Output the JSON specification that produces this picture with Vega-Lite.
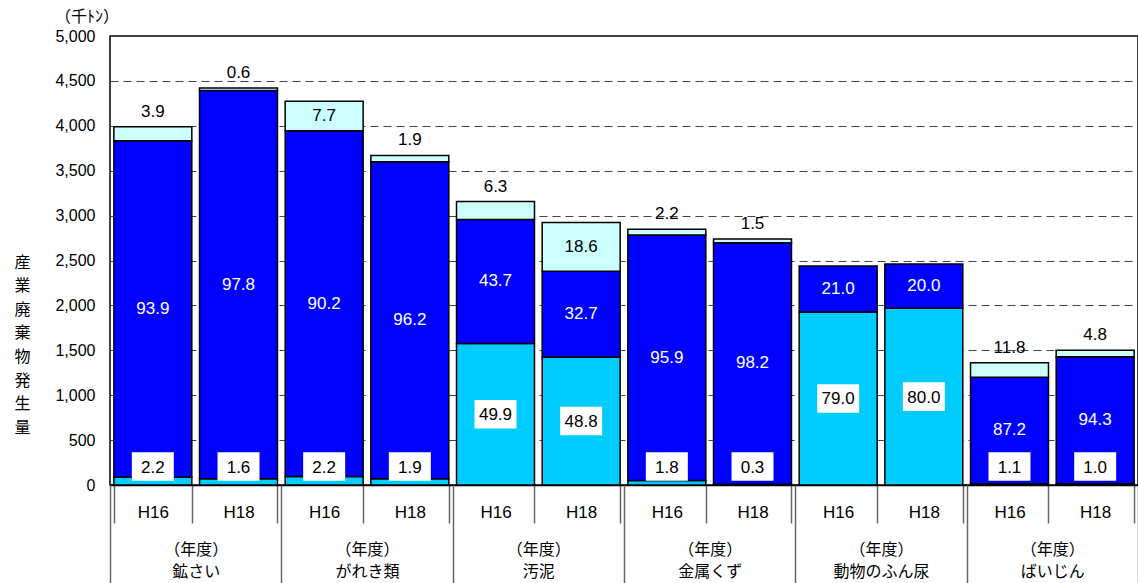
{
  "$schema": "https://vega.github.io/schema/vega-lite/v6.json",
  "width": 1028,
  "height": 449,
  "autosize": {"type": "none"},
  "padding": {"left": 110, "top": 36, "right": 0, "bottom": 98},
  "config": {
    "font": "Liberation Sans",
    "view": {"stroke": "black", "strokeWidth": 1.5},
    "axis": {"labelFont": "Liberation Sans", "labelColor": "black", "labelFontSize": 16, "titleColor": "black"}
  },
  "title": {"text": "（千ﾄﾝ）", "anchor": "start", "frame": "group", "dx": -55, "offset": 3, "fontSize": 16, "font": "Noto Sans CJK JP", "fontWeight": "normal", "color": "black"},
  "data": {
    "values": [
      {"cat": "鉱さい", "year": "H16", "seg": "bottom", "pct": 2.2, "amount": 87.8},
      {"cat": "鉱さい", "year": "H16", "seg": "middle", "pct": 93.9, "amount": 3746.6},
      {"cat": "鉱さい", "year": "H16", "seg": "top", "pct": 3.9, "amount": 155.6},
      {"cat": "鉱さい", "year": "H18", "seg": "bottom", "pct": 1.6, "amount": 70.7},
      {"cat": "鉱さい", "year": "H18", "seg": "middle", "pct": 97.8, "amount": 4322.8},
      {"cat": "鉱さい", "year": "H18", "seg": "top", "pct": 0.6, "amount": 26.5},
      {"cat": "がれき類", "year": "H16", "seg": "bottom", "pct": 2.2, "amount": 93.9},
      {"cat": "がれき類", "year": "H16", "seg": "middle", "pct": 90.2, "amount": 3851.5},
      {"cat": "がれき類", "year": "H16", "seg": "top", "pct": 7.7, "amount": 328.8},
      {"cat": "がれき類", "year": "H18", "seg": "bottom", "pct": 1.9, "amount": 69.7},
      {"cat": "がれき類", "year": "H18", "seg": "middle", "pct": 96.2, "amount": 3530.5},
      {"cat": "がれき類", "year": "H18", "seg": "top", "pct": 1.9, "amount": 69.7},
      {"cat": "汚泥", "year": "H16", "seg": "bottom", "pct": 49.9, "amount": 1576.8},
      {"cat": "汚泥", "year": "H16", "seg": "middle", "pct": 43.7, "amount": 1380.9},
      {"cat": "汚泥", "year": "H16", "seg": "top", "pct": 6.3, "amount": 199.1},
      {"cat": "汚泥", "year": "H18", "seg": "bottom", "pct": 48.8, "amount": 1425.0},
      {"cat": "汚泥", "year": "H18", "seg": "middle", "pct": 32.7, "amount": 954.8},
      {"cat": "汚泥", "year": "H18", "seg": "top", "pct": 18.6, "amount": 543.1},
      {"cat": "金属くず", "year": "H16", "seg": "bottom", "pct": 1.8, "amount": 51.3},
      {"cat": "金属くず", "year": "H16", "seg": "middle", "pct": 95.9, "amount": 2733.2},
      {"cat": "金属くず", "year": "H16", "seg": "top", "pct": 2.2, "amount": 62.7},
      {"cat": "金属くず", "year": "H18", "seg": "bottom", "pct": 0.3, "amount": 8.2},
      {"cat": "金属くず", "year": "H18", "seg": "middle", "pct": 98.2, "amount": 2690.7},
      {"cat": "金属くず", "year": "H18", "seg": "top", "pct": 1.5, "amount": 41.1},
      {"cat": "動物のふん尿", "year": "H16", "seg": "bottom", "pct": 79.0, "amount": 1927.6},
      {"cat": "動物のふん尿", "year": "H16", "seg": "middle", "pct": 21.0, "amount": 512.4},
      {"cat": "動物のふん尿", "year": "H18", "seg": "bottom", "pct": 80.0, "amount": 1968.0},
      {"cat": "動物のふん尿", "year": "H18", "seg": "middle", "pct": 20.0, "amount": 492.0},
      {"cat": "ばいじん", "year": "H16", "seg": "bottom", "pct": 1.1, "amount": 15.0},
      {"cat": "ばいじん", "year": "H16", "seg": "middle", "pct": 87.2, "amount": 1185.9},
      {"cat": "ばいじん", "year": "H16", "seg": "top", "pct": 11.8, "amount": 160.5},
      {"cat": "ばいじん", "year": "H18", "seg": "bottom", "pct": 1.0, "amount": 15.0},
      {"cat": "ばいじん", "year": "H18", "seg": "middle", "pct": 94.3, "amount": 1414.5},
      {"cat": "ばいじん", "year": "H18", "seg": "top", "pct": 4.8, "amount": 72.0}
    ]
  },
  "transform": [
    {"calculate": "datum.cat + '|' + datum.year", "as": "key"},
    {"calculate": "indexof(['bottom','middle','top'], datum.seg)", "as": "o"}
  ],
  "layer": [
    {
      "transform": [
        {"stack": "amount", "groupby": ["key"], "sort": [{"field": "o", "order": "ascending"}], "as": ["y0", "y1"]}
      ],
      "layer": [
        {
          "mark": {"type": "bar", "stroke": "black", "strokeWidth": 1.5},
          "encoding": {
            "x": {
              "field": "key", "type": "nominal",
              "scale": {
                "domain": ["鉱さい|H16", "鉱さい|H18", "がれき類|H16", "がれき類|H18", "汚泥|H16", "汚泥|H18", "金属くず|H16", "金属くず|H18", "動物のふん尿|H16", "動物のふん尿|H18", "ばいじん|H16", "ばいじん|H18"],
                "paddingInner": 0.09, "paddingOuter": 0.045
              },
              "axis": {
                "orient": "bottom",
                "title": null, "labelExpr": "datum.value ? split(datum.value, '|')[1] : ''", "labelAngle": 0,
                "tickBand": "extent", "tickSize": 38, "tickColor": "#666666", "tickWidth": 1.5,
                "domainColor": "black", "domainWidth": 1.5, "labelFontSize": 17,
                "labelBaseline": "top", "labelPadding": -19, "grid": false
              }
            },
            "y": {
              "field": "y1", "type": "quantitative",
              "scale": {"domain": [0, 5000], "nice": false},
              "axis": {
                "values": [0, 500, 1000, 1500, 2000, 2500, 3000, 3500, 4000, 4500, 5000],
                "format": ",.0f", "grid": true, "gridDash": [8, 5], "gridColor": "#444444", "gridWidth": 1,
                "ticks": false, "domain": false, "labelPadding": 15, "labelFontSize": 16,
                "title": ["産", "業", "廃", "棄", "物", "発", "生", "量"],
                "titleAngle": 0, "titleFont": "Noto Sans CJK JP", "titleFontSize": 16, "titleFontWeight": "normal",
                "titleLineHeight": 23.6, "titleX": -88, "titleY": 226, "titleAlign": "center", "titleBaseline": "middle"
              }
            },
            "y2": {"field": "y0"},
            "color": {
              "field": "seg", "type": "nominal",
              "scale": {"domain": ["bottom", "middle", "top"], "range": ["#00CCFF", "#0000FF", "#CCFFFF"]},
              "legend": null
            }
          }
        },
        {
          "transform": [
            {"filter": "datum.seg == 'bottom'"},
            {"calculate": "datum.amount > 500 ? (datum.y0 + datum.y1) / 2 : 205", "as": "ly"}
          ],
          "mark": {"type": "point", "shape": "M-1,-0.68H1V0.68H-1Z", "size": 1764, "filled": true, "fill": "white", "opacity": 1, "strokeWidth": 0},
          "encoding": {
            "x": {"field": "key", "type": "nominal"},
            "y": {"field": "ly", "type": "quantitative"}
          }
        },
        {
          "transform": [
            {"filter": "datum.seg == 'bottom'"},
            {"calculate": "datum.amount > 500 ? (datum.y0 + datum.y1) / 2 : 205", "as": "ly"}
          ],
          "mark": {"type": "text", "fontSize": 17, "baseline": "middle", "color": "black", "dy": 1},
          "encoding": {
            "x": {"field": "key", "type": "nominal"},
            "y": {"field": "ly", "type": "quantitative"},
            "text": {"field": "pct", "type": "quantitative", "format": ".1f"}
          }
        },
        {
          "transform": [
            {"filter": "datum.seg == 'middle'"},
            {"calculate": "(datum.y0 + datum.y1) / 2", "as": "ly"}
          ],
          "mark": {"type": "text", "fontSize": 17, "baseline": "middle", "color": "white"},
          "encoding": {
            "x": {"field": "key", "type": "nominal"},
            "y": {"field": "ly", "type": "quantitative"},
            "text": {"field": "pct", "type": "quantitative", "format": ".1f"}
          }
        },
        {
          "transform": [
            {"filter": "datum.seg == 'top' && datum.amount > 300"},
            {"calculate": "(datum.y0 + datum.y1) / 2", "as": "ly"}
          ],
          "mark": {"type": "text", "fontSize": 17, "baseline": "middle", "color": "black"},
          "encoding": {
            "x": {"field": "key", "type": "nominal"},
            "y": {"field": "ly", "type": "quantitative"},
            "text": {"field": "pct", "type": "quantitative", "format": ".1f"}
          }
        },
        {
          "transform": [
            {"filter": "datum.seg == 'top' && datum.amount <= 300"}
          ],
          "mark": {"type": "text", "fontSize": 17, "baseline": "alphabetic", "color": "black", "dy": -10},
          "encoding": {
            "x": {"field": "key", "type": "nominal"},
            "y": {"field": "y1", "type": "quantitative"},
            "text": {"field": "pct", "type": "quantitative", "format": ".1f"}
          }
        }
      ]
    },
    {
      "mark": {"type": "rule", "opacity": 0},
      "encoding": {
        "x": {
          "field": "cat", "type": "nominal",
          "scale": {"domain": ["鉱さい", "がれき類", "汚泥", "金属くず", "動物のふん尿", "ばいじん"], "paddingInner": 0, "paddingOuter": 0},
          "axis": {
            "orient": "bottom",
            "title": null, "domain": false, "tickBand": "extent", "tickSize": 98, "tickColor": "#666666", "tickWidth": 1.5,
            "labelExpr": "datum.value ? ['（年度）', datum.value] : ''", "labelFont": "Noto Sans CJK JP", "labelFontSize": 16,
            "labelLineHeight": 22, "labelBaseline": "top", "labelPadding": -42, "labelAngle": 0, "labelColor": "black", "grid": false
          }
        }
      }
    }
  ],
  "resolve": {"scale": {"x": "independent"}, "axis": {"x": "independent"}}
}
